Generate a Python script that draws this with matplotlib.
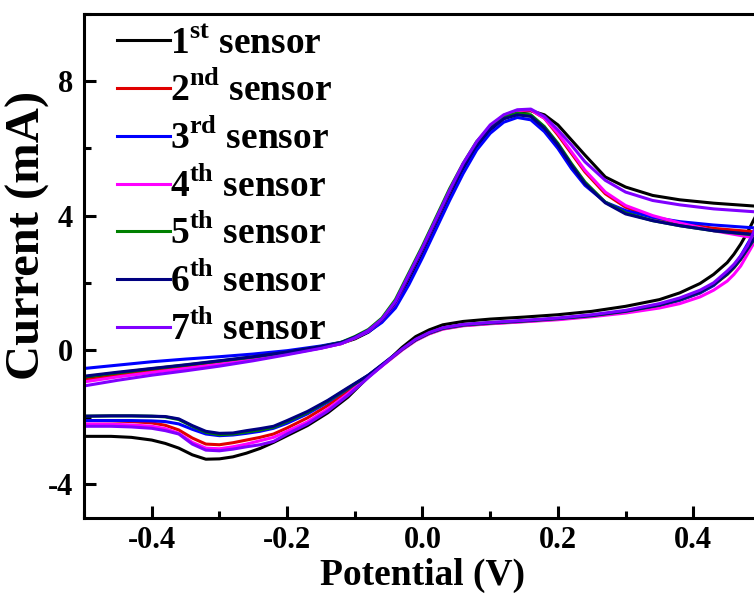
import matplotlib
matplotlib.use("Agg")
import matplotlib.pyplot as plt
from matplotlib.ticker import MultipleLocator

plt.rcParams['font.family'] = ['Liberation Serif', 'DejaVu Serif']
plt.rcParams['font.weight'] = 'bold'
plt.rcParams['mathtext.fontset'] = 'custom'
plt.rcParams['mathtext.rm'] = 'Liberation Serif:bold'
plt.rcParams['mathtext.bf'] = 'Liberation Serif:bold'

# potencjaly: przebieg w strone dodatnia i powrotny
x_fwd = [-0.5, -0.45, -0.4, -0.35, -0.3, -0.25, -0.2, -0.15, -0.12, -0.1, -0.08, -0.06, -0.04,
         -0.02, 0.0, 0.02, 0.04, 0.06, 0.08, 0.1, 0.12, 0.14, 0.16, 0.18, 0.2, 0.22, 0.24,
         0.27, 0.3, 0.34, 0.38, 0.43, 0.5]
x_rev = [0.5, 0.49, 0.48, 0.47, 0.46, 0.45, 0.43, 0.41, 0.38, 0.35, 0.3, 0.25, 0.2, 0.15,
         0.1, 0.06, 0.03, 0.01, -0.01, -0.03, -0.05, -0.08, -0.11, -0.14, -0.17, -0.2, -0.22,
         -0.24, -0.26, -0.28, -0.3, -0.32, -0.34, -0.36, -0.38, -0.4, -0.43, -0.46, -0.5]

# prad [mA]
s1_fwd = [-0.85, -0.72, -0.6, -0.47, -0.35, -0.22, -0.08, 0.08, 0.2, 0.33, 0.53, 0.85, 1.35, 2.1,
          2.9, 3.75, 4.6, 5.4, 6.05, 6.55, 6.9, 7.08, 7.12, 7.0, 6.7, 6.25, 5.8, 5.15, 4.85, 4.6,
          4.47, 4.37, 4.27]
s1_rev = [4.27, 3.9, 3.5, 3.15, 2.85, 2.6, 2.25, 1.98, 1.7, 1.5, 1.3, 1.15, 1.05, 0.98, 0.92,
          0.85, 0.75, 0.6, 0.4, 0.08, -0.3, -0.8, -1.4, -1.87, -2.25, -2.55, -2.75, -2.93, -3.07,
          -3.18, -3.24, -3.25, -3.12, -2.92, -2.78, -2.68, -2.6, -2.57, -2.57]

s2_fwd = [-0.9, -0.76, -0.64, -0.52, -0.4, -0.27, -0.11, 0.06, 0.19, 0.36, 0.56, 0.9, 1.42, 2.22,
          3.02, 3.88, 4.72, 5.52, 6.15, 6.66, 6.98, 7.12, 7.14, 6.9, 6.4, 5.85, 5.3, 4.65, 4.25,
          3.95, 3.78, 3.62, 3.5]
s2_rev = [3.5, 3.35, 3.0, 2.7, 2.45, 2.25, 1.93, 1.7, 1.48, 1.32, 1.14, 1.01, 0.92, 0.85, 0.79,
          0.73, 0.63, 0.49, 0.29, 0.01, -0.31, -0.78, -1.22, -1.65, -2.02, -2.32, -2.5, -2.6,
          -2.68, -2.76, -2.82, -2.8, -2.62, -2.38, -2.24, -2.17, -2.13, -2.11, -2.1]

s3_fwd = [-0.55, -0.45, -0.35, -0.27, -0.2, -0.12, -0.02, 0.12, 0.23, 0.36, 0.54, 0.82, 1.25, 1.95,
          2.75, 3.6, 4.45, 5.25, 5.95, 6.45, 6.78, 6.92, 6.85, 6.5, 6.0, 5.4, 4.9, 4.4, 4.15, 3.95,
          3.82, 3.72, 3.62]
s3_rev = [3.62, 3.5, 3.15, 2.8, 2.5, 2.28, 1.92, 1.7, 1.48, 1.32, 1.14, 1.02, 0.93, 0.86, 0.8,
          0.74, 0.64, 0.5, 0.3, 0.02, -0.3, -0.75, -1.15, -1.55, -1.9, -2.18, -2.33, -2.42, -2.48,
          -2.53, -2.55, -2.5, -2.36, -2.2, -2.13, -2.11, -2.1, -2.1, -2.1]

s4_fwd = [-0.95, -0.8, -0.67, -0.55, -0.42, -0.28, -0.12, 0.06, 0.19, 0.36, 0.56, 0.9, 1.4, 2.2,
          3.0, 3.85, 4.7, 5.5, 6.15, 6.65, 6.98, 7.13, 7.15, 6.9, 6.45, 5.9, 5.35, 4.7, 4.3, 4.0,
          3.78, 3.55, 3.3]
s4_rev = [3.3, 3.2, 2.85, 2.5, 2.25, 2.05, 1.78, 1.58, 1.38, 1.25, 1.1, 0.99, 0.9, 0.84, 0.78,
          0.72, 0.62, 0.48, 0.28, 0.0, -0.32, -0.8, -1.3, -1.76, -2.14, -2.42, -2.6, -2.7, -2.8,
          -2.88, -2.94, -2.92, -2.75, -2.48, -2.34, -2.27, -2.23, -2.21, -2.2]

s5_fwd = [-0.8, -0.68, -0.56, -0.45, -0.33, -0.21, -0.07, 0.1, 0.23, 0.4, 0.61, 0.95, 1.5, 2.3,
          3.1, 3.95, 4.8, 5.55, 6.2, 6.65, 6.95, 7.05, 7.0, 6.65, 6.15, 5.55, 5.0, 4.4, 4.08, 3.85,
          3.7, 3.55, 3.4]
s5_rev = [3.4, 3.3, 3.0, 2.7, 2.45, 2.25, 1.95, 1.72, 1.5, 1.33, 1.15, 1.02, 0.93, 0.86, 0.8,
          0.74, 0.64, 0.5, 0.3, 0.02, -0.3, -0.76, -1.14, -1.52, -1.86, -2.13, -2.3, -2.38, -2.44,
          -2.5, -2.52, -2.45, -2.27, -2.07, -1.99, -1.97, -1.96, -1.96, -1.97]

s6_fwd = [-0.78, -0.66, -0.55, -0.44, -0.32, -0.2, -0.06, 0.1, 0.22, 0.38, 0.58, 0.9, 1.42, 2.2,
          3.0, 3.85, 4.7, 5.45, 6.1, 6.58, 6.88, 7.0, 6.95, 6.6, 6.1, 5.5, 4.95, 4.38, 4.05, 3.85,
          3.7, 3.55, 3.42]
s6_rev = [3.42, 3.32, 3.02, 2.72, 2.47, 2.27, 1.96, 1.73, 1.51, 1.34, 1.16, 1.03, 0.94, 0.87,
          0.81, 0.75, 0.65, 0.51, 0.31, 0.03, -0.28, -0.75, -1.12, -1.5, -1.83, -2.1, -2.27,
          -2.34, -2.4, -2.47, -2.48, -2.42, -2.25, -2.05, -1.98, -1.97, -1.96, -1.96, -1.97]

s7_fwd = [-1.07, -0.9, -0.75, -0.62, -0.48, -0.32, -0.14, 0.05, 0.19, 0.36, 0.58, 0.92, 1.45, 2.25,
          3.05, 3.9, 4.75, 5.55, 6.2, 6.7, 7.0, 7.15, 7.17, 6.95, 6.55, 6.1, 5.6, 5.05, 4.7, 4.45,
          4.32, 4.2, 4.1]
s7_rev = [4.1, 3.55, 3.1, 2.8, 2.55, 2.35, 2.0, 1.78, 1.55, 1.38, 1.18, 1.05, 0.95, 0.88, 0.82,
          0.76, 0.66, 0.52, 0.32, 0.03, -0.3, -0.82, -1.35, -1.82, -2.2, -2.5, -2.72, -2.82, -2.88,
          -2.95, -3.0, -2.98, -2.8, -2.5, -2.4, -2.33, -2.29, -2.27, -2.27]

labels = [r'1$^{\mathbf{st}}$ sensor', r'2$^{\mathbf{nd}}$ sensor', r'3$^{\mathbf{rd}}$ sensor',
          r'4$^{\mathbf{th}}$ sensor', r'5$^{\mathbf{th}}$ sensor', r'6$^{\mathbf{th}}$ sensor',
          r'7$^{\mathbf{th}}$ sensor']
colors = ['#000000', '#e00000', '#0000ff', '#ff00ff', '#008000', '#000080', '#8000ff']
curves = [(s1_fwd, s1_rev), (s2_fwd, s2_rev), (s3_fwd, s3_rev), (s4_fwd, s4_rev),
          (s5_fwd, s5_rev), (s6_fwd, s6_rev), (s7_fwd, s7_rev)]

fig = plt.figure(figsize=(7.54, 5.96), dpi=100)
ax = fig.add_axes([84 / 754, 78 / 596, 677 / 754, 504 / 596])

for (fwd, rev), col, lab in zip(curves, colors, labels):
    ax.plot(x_fwd + x_rev, fwd + rev, color=col, lw=2.2, label=lab)

ax.set_xlim(-0.5, 0.5)
ax.set_ylim(-5, 10)
ax.xaxis.set_minor_locator(MultipleLocator(0.1))
ax.yaxis.set_minor_locator(MultipleLocator(2))
ax.set_xticks([-0.4, -0.2, 0.0, 0.2, 0.4])
ax.set_xticklabels(['-0.4', '-0.2', '0.0', '0.2', '0.4'])
ax.set_yticks([-4, 0, 4, 8])
ax.set_yticklabels(['-4', '0', '4', '8'])

for sp in ax.spines.values():
    sp.set_linewidth(2.2)
ax.tick_params(which='major', direction='in', length=8.6, width=2.2, labelsize=22)
ax.tick_params(axis='x', which='major', pad=6)
ax.tick_params(axis='y', which='major', pad=8)
ax.tick_params(which='minor', direction='in', length=5, width=2.2)

ax.set_xlabel('Potential (V)', fontsize=27, fontweight='bold')
ax.set_ylabel('Current (mA)', fontsize=35, fontweight='bold')
ax.xaxis.set_label_coords(0.5, -0.08)
ax.yaxis.set_label_coords(-0.05, 0.5615)

ax.legend(loc='upper left', bbox_to_anchor=(0.0487, 0.975), frameon=False, fontsize=27,
          handlelength=1.42, handletextpad=0.0, labelspacing=0.27, borderpad=0, borderaxespad=0)

fig.savefig('out.png', dpi=100)
